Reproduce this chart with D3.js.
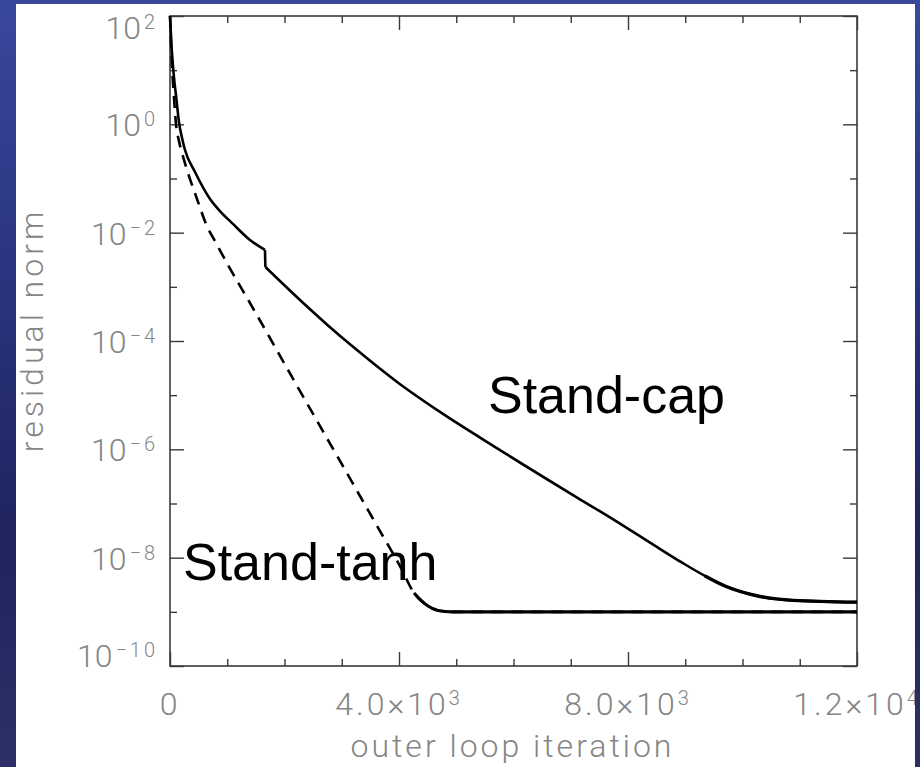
<!DOCTYPE html>
<html>
<head>
<meta charset="utf-8">
<script src="https://cdn.jsdelivr.net/npm/d3@7"></script>
<style>
  html, body { margin: 0; padding: 0; background: #2a3275; }
  svg { display: block; }
</style>
</head>
<body>
<svg id="chart" width="920" height="767"></svg>
<script>
// ---------------- data ----------------
const capIter = [0, 26, 58, 114, 157, 210, 262, 437, 699, 873, 1100, 1397, 1659, 1666, 2271, 2750, 3266, 3990, 4716, 5730, 7126, 7755, 8384, 8961, 9345, 9694, 10288, 10882, 12000];
const capResidual = [100, 29, 10, 2.8, 1.1, 0.56, 0.336, 0.132, 0.0419, 0.0251, 0.0145, 0.00733, 0.00479, 0.00232, 5.7e-4, 1.98e-4, 6.8e-5, 1.68e-5, 4.9e-6, 1.02e-6, 1.26e-7, 5.0e-8, 1.9e-8, 7.9e-9, 4.6e-9, 3.0e-9, 1.94e-9, 1.63e-9, 1.51e-9];
const capJumpAt = 1659;   // restart drop between 1659 and 1666

const tanhIter = [0, 17, 35, 70, 105, 157, 210, 332, 472, 629, 803, 1013, 1397, 1764, 2271, 2969, 3668, 4017, 4262, 4506, 4681, 4926, 12000];
const tanhResidual = [100, 33, 11.9, 3.06, 1.01, 0.49, 0.296, 0.111, 0.0419, 0.0145, 0.00646, 0.00253, 5.03e-4, 1.05e-4, 1.19e-5, 6.1e-7, 3.1e-8, 7.0e-9, 2.23e-9, 1.28e-9, 1.06e-9, 1.0e-9, 1.0e-9];

const xMajorTicks = [0, 4000, 8000, 12000];
const xMinorTicks = [1000, 2000, 3000, 5000, 6000, 7000, 9000, 10000, 11000];
const xLabelBase = ["0", "4.0×10", "8.0×10", "1.2×10"];
const xLabelExp = ["", "3", "3", "4"];

const yMajorTicks = [1e2, 1e0, 1e-2, 1e-4, 1e-6, 1e-8, 1e-10];
const yMinorTicks = [1e1, 1e-1, 1e-3, 1e-5, 1e-7, 1e-9];
const yLabelBase = ["10", "10", "10", "10", "10", "10", "10"];
const yLabelExp = ["2", "0", "−2", "−4", "−6", "−8", "−10"];

const xTitle = "outer loop iteration";
const yTitle = "residual norm";
const capLabel = {text: "Stand-cap", iter: 5554, value: 4.7e-6};
const tanhLabel = {text: "Stand-tanh", iter: 227, value: 3.9e-9};
const capPlateauFrom = 9345;
const tanhPlateauFrom = 4262;

// ---------------- layout ----------------
const W = 920, H = 767;
const panel = {x: 16, y: 4, w: 899, h: 763};
const plot = {left: 170, top: 16, right: 857, bottom: 666};
const svg = d3.select("#chart");

const defs = svg.append("defs");
const bg = defs.append("linearGradient").attr("id", "bg").attr("x1", 0).attr("y1", 0).attr("x2", 0).attr("y2", 1);
bg.append("stop").attr("offset", "0%").attr("stop-color", "#3a489c");
bg.append("stop").attr("offset", "35%").attr("stop-color", "#2a3480");
bg.append("stop").attr("offset", "70%").attr("stop-color", "#1f245e");
bg.append("stop").attr("offset", "100%").attr("stop-color", "#2c3066");
defs.append("clipPath").attr("id", "panelClip").append("rect")
  .attr("x", panel.x).attr("y", panel.y).attr("width", panel.w).attr("height", panel.h);

svg.append("rect").attr("width", W).attr("height", H).attr("fill", "url(#bg)");
svg.append("rect").attr("x", panel.x).attr("y", panel.y).attr("width", panel.w).attr("height", panel.h).attr("fill", "#ffffff");

const g = svg.append("g").attr("clip-path", "url(#panelClip)");

const x = d3.scaleLinear().domain([0, 12000]).range([plot.left, plot.right]);
const y = d3.scaleLog().domain([1e-10, 1e2]).range([plot.bottom, plot.top]);

const axisColor = "#3a3a3a";
const labelColor = "#858585";
const tickFont = "Roboto, 'Liberation Sans', sans-serif";

function drawAxis(axisGen, tx, ty) {
  const a = g.append("g").attr("transform", `translate(${tx},${ty})`).call(axisGen);
  a.select(".domain").remove();
  a.selectAll("line").attr("stroke", axisColor).attr("stroke-width", 1.4);
  a.selectAll("text").remove();
  return a;
}
const majorLen = 14, minorLen = 7;
drawAxis(d3.axisBottom(x).tickValues(xMajorTicks).tickSize(-majorLen).tickFormat(""), 0, plot.bottom);
drawAxis(d3.axisBottom(x).tickValues(xMinorTicks).tickSize(-minorLen).tickFormat(""), 0, plot.bottom);
drawAxis(d3.axisTop(x).tickValues(xMajorTicks).tickSize(-majorLen).tickFormat(""), 0, plot.top);
drawAxis(d3.axisTop(x).tickValues(xMinorTicks).tickSize(-minorLen).tickFormat(""), 0, plot.top);
drawAxis(d3.axisLeft(y).tickValues(yMajorTicks).tickSize(-majorLen).tickFormat(""), plot.left, 0);
drawAxis(d3.axisLeft(y).tickValues(yMinorTicks).tickSize(-minorLen).tickFormat(""), plot.left, 0);
drawAxis(d3.axisRight(y).tickValues(yMajorTicks).tickSize(-majorLen).tickFormat(""), plot.right, 0);
drawAxis(d3.axisRight(y).tickValues(yMinorTicks).tickSize(-minorLen).tickFormat(""), plot.right, 0);

g.append("rect").attr("x", plot.left).attr("y", plot.top)
  .attr("width", plot.right - plot.left).attr("height", plot.bottom - plot.top)
  .attr("fill", "none").attr("stroke", axisColor).attr("stroke-width", 1.6);

// y tick labels
yMajorTicks.forEach((v, i) => {
  const dy = i === 0 ? 23 : (i === yMajorTicks.length - 1 ? 1 : 12);
  const t = g.append("text").attr("x", plot.left - 12).attr("y", y(v) + dy)
    .attr("text-anchor", "end").attr("fill", labelColor)
    .style("font-family", tickFont).style("font-weight", 300).style("font-size", "32px");
  t.append("tspan").text(yLabelBase[i]);
  t.append("tspan").attr("dy", -10).attr("dx", 3).style("font-size", "20px").style("letter-spacing", "3px").text(yLabelExp[i]);
});

// x tick labels
xMajorTicks.forEach((v, i) => {
  const t = g.append("text").attr("x", x(v)).attr("y", plot.bottom + 49)
    .attr("text-anchor", "middle").attr("fill", labelColor)
    .style("font-family", tickFont).style("font-weight", 300).style("font-size", "32px")
    .style("letter-spacing", "3px");
  t.append("tspan").text(xLabelBase[i]);
  if (xLabelExp[i]) t.append("tspan").attr("dy", -10).style("font-size", "20px").text(xLabelExp[i]);
});

// axis titles
g.append("text").attr("x", (plot.left + plot.right) / 2 - 1).attr("y", 757)
  .attr("text-anchor", "middle").attr("fill", labelColor)
  .style("font-family", tickFont).style("font-weight", 300).style("font-size", "32px")
  .style("letter-spacing", "3px").text(xTitle);
g.append("text").attr("transform", `translate(43, ${(plot.top + plot.bottom) / 2 - 11}) rotate(-90)`)
  .attr("text-anchor", "middle").attr("fill", labelColor)
  .style("font-family", tickFont).style("font-weight", 300).style("font-size", "32px")
  .style("letter-spacing", "4px").text(yTitle);

// lines
const capData = capIter.map((d, i) => ({it: d, r: capResidual[i]}));
const tanhData = tanhIter.map((d, i) => ({it: d, r: tanhResidual[i]}));
const line = d3.line().x(d => x(d.it)).y(d => y(d.r)).curve(d3.curveMonotoneX);
const straight = d3.line().x(d => x(d.it)).y(d => y(d.r));

const capBefore = capData.filter(d => d.it <= capJumpAt);
const capAfter = capData.filter(d => d.it > capJumpAt);
const capJump = [capBefore[capBefore.length - 1], capAfter[0]];

const lines = g.append("g").attr("fill", "none").attr("stroke", "#000").attr("stroke-linejoin", "round");
lines.append("path").datum(tanhData).attr("d", line).attr("stroke-width", 2.6).attr("stroke-dasharray", "12,8");
lines.append("path").datum(tanhData.filter(d => d.it >= tanhPlateauFrom)).attr("d", line).attr("stroke-width", 3.2);
lines.append("path").datum(capBefore).attr("d", line).attr("stroke-width", 2.6);
lines.append("path").datum(capJump).attr("d", straight).attr("stroke-width", 2.6);
lines.append("path").datum(capAfter).attr("d", line).attr("stroke-width", 2.6);
lines.append("path").datum(capData.filter(d => d.it >= capPlateauFrom)).attr("d", line).attr("stroke-width", 3.4);

// annotations
[capLabel, tanhLabel].forEach(l => {
  g.append("text").attr("x", x(l.iter)).attr("y", y(l.value))
    .attr("fill", "#000").style("font-family", "'Liberation Sans', Arial, sans-serif")
    .style("font-size", "52px").text(l.text);
});
</script>
</body>
</html>
